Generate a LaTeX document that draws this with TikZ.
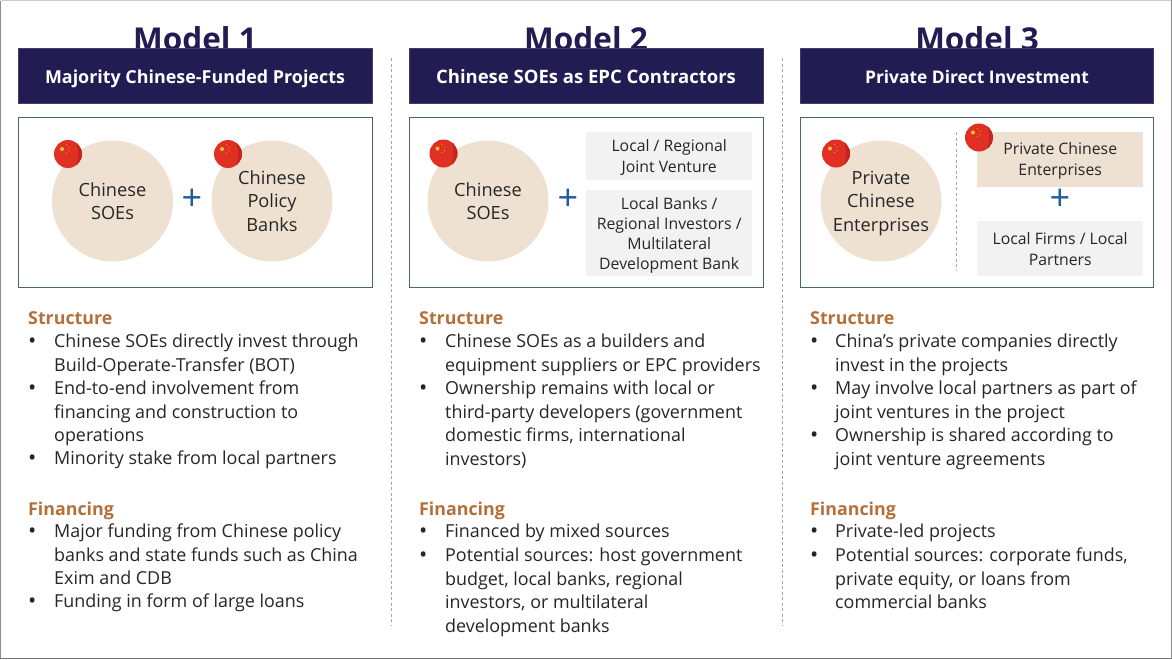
\documentclass[tikz,border=0pt]{standalone}
\usepackage{fontspec}
\setmainfont{Open Sans}
\definecolor{navy}{HTML}{211C52}
\definecolor{boxline}{HTML}{4A6478}
\definecolor{beige}{HTML}{EFE1D1}
\definecolor{lightgray}{HTML}{F2F2F2}
\definecolor{headbrown}{HTML}{B5703A}
\definecolor{plusblue}{HTML}{1F5C99}
\definecolor{flagred}{HTML}{E03024}
\definecolor{flagdark}{HTML}{C72420}
\definecolor{flagstar}{HTML}{F2C230}
\definecolor{inktext}{HTML}{262626}
\definecolor{sepgray}{HTML}{A6A6A6}
\newcommand{\flagat}[2]{%
  \begin{scope}
    \clip (#1,#2) circle (14);
    \fill[flagred] (#1,#2) circle (14);
    \fill[flagdark] (#1+7,#2-14) .. controls (#1+11,#2-5) and (#1+11,#2+5) .. (#1+7,#2+14) -- (#1+15,#2+14) -- (#1+15,#2-14) -- cycle;
    \fill[flagstar] (#1-6,#2-5) circle (2);
    \fill[flagstar!80!flagred] (#1-1.5,#2-9) circle (.7) (#1+1,#2-6.5) circle (.7) (#1+1,#2-3) circle (.7) (#1-1.5,#2-1) circle (.7);
  \end{scope}}
\tikzset{
  x=1pt,y=-1pt,
  titletext/.style={font=\fontsize{31.5}{31.5}\selectfont\bfseries,text=navy,anchor=base,inner sep=0},
  headbar/.style={fill=navy,draw=navy!85!white,line width=.6pt},
  headtext/.style={font=\fontsize{#1}{20}\selectfont\bfseries,text=white,anchor=base,inner sep=0},
  panel/.style={draw=boxline,line width=1pt,fill=white},
  disc/.style={circle,fill=beige,draw=none,minimum size=121pt,inner sep=0},
  disctext/.style={inner sep=0,align=center,text=inktext,font=\fontsize{18.2}{23.5}\selectfont},
  tag/.style={fill=#1,draw=none,inner sep=0,anchor=north west},
  tagtext/.style={inner sep=0,align=center,text=inktext,font=\fontsize{15.8}{21}\selectfont},
  plussign/.style={font=\fontsize{36}{36}\selectfont,text=plusblue,inner sep=0,anchor=center},
  sectionhead/.style={font=\fontsize{17.8}{20}\selectfont\bfseries,text=headbrown,anchor=base west,inner sep=0},
  bodytext/.style={font=\fontsize{17.9}{23.6}\selectfont,text=inktext,anchor=base west,inner sep=0,align=left},
  bul/.style={font=\fontsize{22}{23.6}\selectfont,text=inktext,anchor=base west,inner sep=0},
  sep/.style={draw=sepgray,line width=.7pt,dash pattern=on 3pt off 2.5pt},
}
\newcommand{\titem}[5]{% name, x bullet, x text, baseline of first line, text
  \node[bul] (#1b) at (#2,#4+1) {•};
  \node[bodytext,anchor=north west] (#1) at (#3,#4-13.4) {#5};}
\begin{document}
\begin{tikzpicture}
\useasboundingbox (0,0) rectangle (1172,659);
\fill[white] (0,0) rectangle (1172,659);
\draw[draw=black!45,line width=1.2pt] (.6,659) -- (.6,.5);
\draw[draw=black!20,line width=1pt] (.6,.5) -- (1172,.5);
\draw[draw=black!55,line width=1pt] (0,658.5) -- (1172,658.5);
\draw[draw=black!45,line width=1pt] (1171.5,0) -- (1171.5,659);

% titles, cut by the bars
\node[titletext] (t1) at (195,50) {Model 1};
\node[titletext] (t2) at (586,50) {Model 2};
\node[titletext] (t3) at (977,50) {Model 3};

\draw[headbar] (18,48.5) rectangle (372,103);
\draw[headbar] (409,48.5) rectangle (763,103);
\draw[headbar] (800,48.5) rectangle (1153,103);
\node[headtext=17.9] (h1) at (195,83) {Majority Chinese-Funded Projects};
\node[headtext=18.5] (h2) at (586,83) {Chinese SOEs as EPC Contractors};
\node[headtext=17.4] (h3) at (977,83) {Private Direct Investment};

\draw[sep] (391,58) -- (391,626);
\draw[sep] (782,58) -- (782,626);

\draw[panel] (18.5,117.5) rectangle (372.5,287);
\draw[panel] (409.5,117.5) rectangle (763.5,287);
\draw[panel] (800.5,117.5) rectangle (1153.5,287);

% Model 1 graphic
\node[disc] (c1a) at (112.5,201) {};
\node[disctext] (c1at) at ([yshift=-.3pt]c1a.center) {Chinese\\SOEs};
\node[disc] (c1b) at (272,201) {};
\node[disctext] (c1bt) at (c1b.center) {Chinese\\Policy\\Banks};
\flagat{68}{154}
\flagat{228}{154}
\node[plussign] (p1) at (192,200) {+};

% Model 2 graphic
\node[disc] (c2a) at (488,201) {};
\node[disctext] (c2at) at ([yshift=-.3pt]c2a.center) {Chinese\\SOEs};
\flagat{443.5}{153.5}
\node[plussign] (p2) at (568,200) {+};
\node[tag=lightgray,minimum width=166pt,minimum height=48pt] (r2a) at (586,132) {};
\node[tagtext] (r2at) at ([yshift=-1pt]r2a.center) {Local / Regional\\Joint Venture};
\node[tag=lightgray,minimum width=166pt,minimum height=86pt] (r2b) at (586,190) {};
\node[tagtext,font=\fontsize{15.8}{20.2}\selectfont] (r2bt) at ([yshift=-2pt]r2b.center) {Local Banks /\\Regional Investors /\\Multilateral\\Development Bank};

% Model 3 graphic
\node[disc] (c3a) at (881,201) {};
\node[disctext] (c3at) at ([yshift=-2.5pt]c3a.center) {Private\\Chinese\\Enterprises};
\flagat{836}{153.5}
\draw[sep] (956.5,132) -- (956.5,271);
\node[tag=beige,minimum width=166pt,minimum height=55pt] (r3a) at (977,132) {};
\node[tagtext] (r3at) at ([yshift=-1pt]r3a.center) {Private Chinese\\Enterprises};
\node[plussign] (p3) at (1060,200) {+};
\node[tag=lightgray,minimum width=166pt,minimum height=55pt] (r3b) at (977,221) {};
\node[tagtext] (r3bt) at (r3b.center) {Local Firms / Local\\Partners};
\flagat{979}{137.5}

% Model 1 text
\node[sectionhead] (s1) at (28,324) {Structure};
\titem{a1}{28}{54}{347}{Chinese SOEs directly invest through\\Build-Operate-Transfer (BOT)}
\titem{a2}{28}{54}{394}{End-to-end involvement from\\financing and construction to\\operations}
\titem{a3}{28}{54}{464}{Minority stake from local partners}
\node[sectionhead] (f1) at (28,515) {Financing};
\titem{b1}{28}{54}{537}{Major funding from Chinese policy\\banks and state funds such as China\\Exim and CDB}
\titem{b2}{28}{54}{607}{Funding in form of large loans}

% Model 2 text
\node[sectionhead] (s2) at (419,324) {Structure};
\titem{c1}{419}{445}{347}{Chinese SOEs as a builders and\\equipment suppliers or EPC providers}
\titem{c2}{419}{445}{394}{Ownership remains with local or\\third-party developers (government\\domestic firms, international\\investors)}
\node[sectionhead] (f2) at (419,515) {Financing};
\titem{d1}{419}{445}{537}{Financed by mixed sources}
\titem{d2}{419}{445}{561}{Potential sources: host government\\budget, local banks, regional\\investors, or multilateral\\development banks}

% Model 3 text
\node[sectionhead] (s3) at (810,324) {Structure};
\titem{e1}{810}{835}{347}{China’s private companies directly\\invest in the projects}
\titem{e2}{810}{835}{394}{May involve local partners as part of\\joint ventures in the project}
\titem{e3}{810}{835}{441}{Ownership is shared according to\\joint venture agreements}
\node[sectionhead] (f3) at (810,515) {Financing};
\titem{g1}{810}{835}{537}{Private-led projects}
\titem{g2}{810}{835}{561}{Potential sources: corporate funds,\\private equity, or loans from\\commercial banks}
\end{tikzpicture}
\end{document}
